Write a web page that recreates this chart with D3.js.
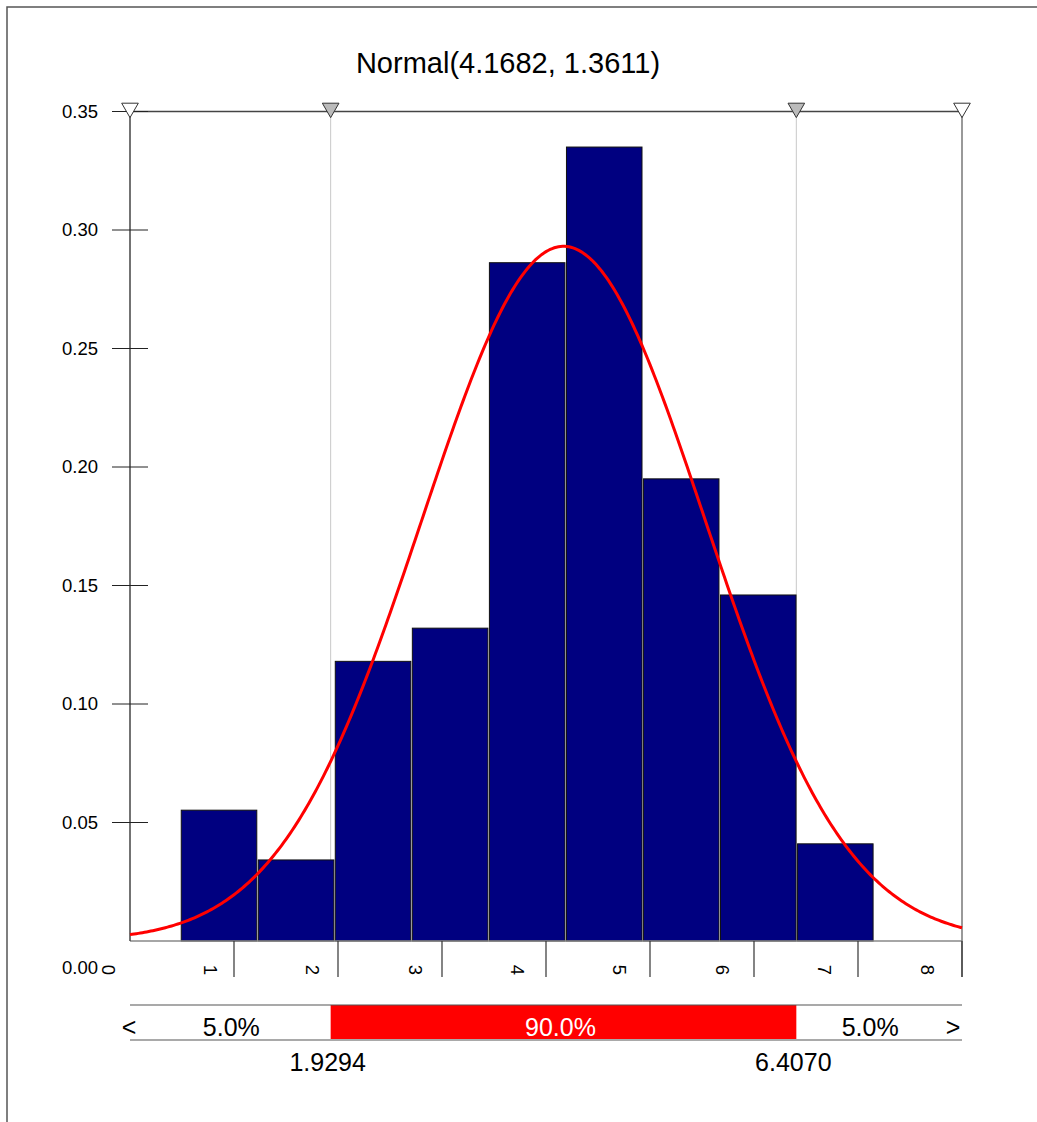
<!DOCTYPE html>
<html>
<head>
<meta charset="utf-8">
<script src="https://cdn.jsdelivr.net/npm/d3@7"></script>
<style>
  body { margin: 0; background: #fff; }
  text { font-family: "Liberation Sans", Arial, sans-serif; fill: #000; }
</style>
</head>
<body>
<svg width="1037" height="1122"></svg>
<script>
// fitted distribution
var MEAN = 4.1682, SD = 1.3611;
var TITLE = "Normal(4.1682, 1.3611)";

// histogram bins (left edge) and densities
var BIN_WIDTH = 0.7407;
var binStarts = [0.488, 1.229, 1.969, 2.710, 3.451, 4.192, 4.932, 5.673, 6.414];
var densities = [0.0552, 0.0342, 0.1180, 0.1320, 0.2862, 0.3350, 0.1950, 0.1460, 0.0410];

var yTicks = [0.05, 0.10, 0.15, 0.20, 0.25, 0.30, 0.35];
var xTicks = [1, 2, 3, 4, 5, 6, 7, 8];
var xLabels = [0, 1, 2, 3, 4, 5, 6, 7, 8];

// 90% interval
var lowCut = 1.9294, highCut = 6.4070;
var tailLeft = "5.0%", middle = "90.0%", tailRight = "5.0%";

var svg = d3.select("svg"),
    width = +svg.attr("width"),
    height = +svg.attr("height");

var pLeft = 130, pRight = 962, pTop = 111.5, pBottom = 941;

var x = d3.scaleLinear().domain([0, 8]).range([pLeft, pRight]);
var y = d3.scaleLinear().domain([0, 0.35]).range([pBottom, pTop]);
// the rotated labels drift a bit left of their ticks
var xLab = d3.scaleLinear().domain([0, 8]).range([108, 927]);

// outer frame (left + top only visible)
svg.append("path")
  .attr("d", "M7," + height + " L7,7 L" + width + ",7")
  .attr("fill", "none").attr("stroke", "#555").attr("stroke-width", 1.5);

// title
svg.append("text")
  .attr("x", 508).attr("y", 73)
  .attr("text-anchor", "middle")
  .style("font-size", "29px")
  .text(TITLE);

// cut lines
svg.selectAll("line.cut")
  .data([lowCut, highCut])
  .enter().append("line")
  .attr("class", "cut")
  .attr("x1", function(d) { return x(d); }).attr("x2", function(d) { return x(d); })
  .attr("y1", pTop).attr("y2", pBottom)
  .attr("stroke", "#c8c8c8").attr("stroke-width", 1);

// bars
svg.append("g").selectAll("rect")
  .data(binStarts.map(function(s, i) { return {x0: s, x1: s + BIN_WIDTH, v: densities[i]}; }))
  .enter().append("rect")
  .attr("x", function(d) { return x(d.x0) + 0.5; })
  .attr("width", function(d) { return x(d.x1) - x(d.x0) - 1.5; })
  .attr("y", function(d) { return y(d.v); })
  .attr("height", function(d) { return pBottom - y(d.v); })
  .attr("fill", "#000080")
  .attr("stroke", "#111")
  .attr("stroke-width", 1);

// axes frame
svg.append("line").attr("x1", pLeft).attr("x2", pRight).attr("y1", pBottom).attr("y2", pBottom)
  .attr("stroke", "#888").attr("stroke-width", 1.5);
svg.append("line").attr("x1", pLeft).attr("x2", pLeft).attr("y1", pTop).attr("y2", pBottom)
  .attr("stroke", "#444").attr("stroke-width", 1.5);
svg.append("line").attr("x1", pLeft).attr("x2", pRight).attr("y1", pTop).attr("y2", pTop)
  .attr("stroke", "#444").attr("stroke-width", 1.5);
svg.append("line").attr("x1", pRight).attr("x2", pRight).attr("y1", pTop).attr("y2", 977)
  .attr("stroke", "#777").attr("stroke-width", 1.5);

// y ticks
var yg = svg.append("g");
yg.selectAll("line").data(yTicks).enter().append("line")
  .attr("x1", 112).attr("x2", 148)
  .attr("y1", function(d) { return y(d); }).attr("y2", function(d) { return y(d); })
  .attr("stroke", "#222").attr("stroke-width", 1);
yg.selectAll("text").data(yTicks).enter().append("text")
  .attr("x", 98).attr("y", function(d) { return y(d); })
  .attr("dy", "0.35em")
  .attr("text-anchor", "end")
  .style("font-size", "18.5px")
  .text(d3.format(".2f"));
yg.append("text")
  .attr("x", 98).attr("y", 968).attr("dy", "0.35em")
  .attr("text-anchor", "end")
  .style("font-size", "18.5px")
  .text(d3.format(".2f")(0));

// x ticks + rotated labels
var xg = svg.append("g");
xg.selectAll("line").data(xTicks).enter().append("line")
  .attr("x1", function(d) { return x(d); }).attr("x2", function(d) { return x(d); })
  .attr("y1", pBottom).attr("y2", 977)
  .attr("stroke", "#333").attr("stroke-width", 1.2);
xg.selectAll("text").data(xLabels).enter().append("text")
  .attr("transform", function(d) { return "translate(" + xLab(d) + ",970) rotate(90)"; })
  .attr("text-anchor", "middle")
  .attr("dy", "0.35em")
  .style("font-size", "18.5px")
  .text(function(d) { return d; });

// normal curve
function pdf(v) {
  return Math.exp(-0.5 * Math.pow((v - MEAN) / SD, 2)) / (SD * Math.sqrt(2 * Math.PI));
}
var curvePts = d3.range(0, 8.0001, 0.02);
svg.append("path")
  .datum(curvePts)
  .attr("d", d3.line().x(function(d) { return x(d); }).y(function(d) { return y(pdf(d)); }))
  .attr("fill", "none")
  .attr("stroke", "#ff0000")
  .attr("stroke-width", 3);

// triangles on top
var tri = d3.symbol().type(d3.symbolTriangle).size(120);
svg.selectAll("path.tri")
  .data([{v: 0, f: "#fff"}, {v: lowCut, f: "#bbb"}, {v: highCut, f: "#bbb"}, {v: 8, f: "#fff"}])
  .enter().append("path")
  .attr("class", "tri")
  .attr("d", tri)
  .attr("transform", function(d) { return "translate(" + x(d.v) + ",108) rotate(180)"; })
  .attr("fill", function(d) { return d.f; })
  .attr("stroke", "#333").attr("stroke-width", 1);

// interval bar below
var barTop = 1005, barBot = 1040;
svg.append("rect")
  .attr("x", x(lowCut)).attr("width", x(highCut) - x(lowCut))
  .attr("y", barTop).attr("height", barBot - barTop - 1)
  .attr("fill", "#ff0000");
svg.selectAll("line.band").data([barTop, barBot]).enter().append("line")
  .attr("class", "band")
  .attr("x1", pLeft).attr("x2", pRight)
  .attr("y1", function(d) { return d; }).attr("y2", function(d) { return d; })
  .attr("stroke", "#555").attr("stroke-width", 1.2);

var bandText = [
  {x: (pLeft + x(lowCut)) / 2 + 1, t: tailLeft, c: "#000"},
  {x: (x(lowCut) + x(highCut)) / 2 - 3, t: middle, c: "#fff"},
  {x: (x(highCut) + pRight) / 2 - 9, t: tailRight, c: "#000"},
  {x: 129, t: "<", c: "#000"},
  {x: 953, t: ">", c: "#000"}
];
svg.selectAll("text.band").data(bandText).enter().append("text")
  .attr("class", "band")
  .attr("x", function(d) { return d.x; }).attr("y", 1036)
  .attr("text-anchor", "middle")
  .style("font-size", "25px")
  .style("fill", function(d) { return d.c; })
  .text(function(d) { return d.t; });

svg.selectAll("text.cutval").data([lowCut, highCut]).enter().append("text")
  .attr("class", "cutval")
  .attr("x", function(d) { return x(d) - 3; }).attr("y", 1071)
  .attr("text-anchor", "middle")
  .style("font-size", "25px")
  .text(d3.format(".4f"));
</script>
</body>
</html>
